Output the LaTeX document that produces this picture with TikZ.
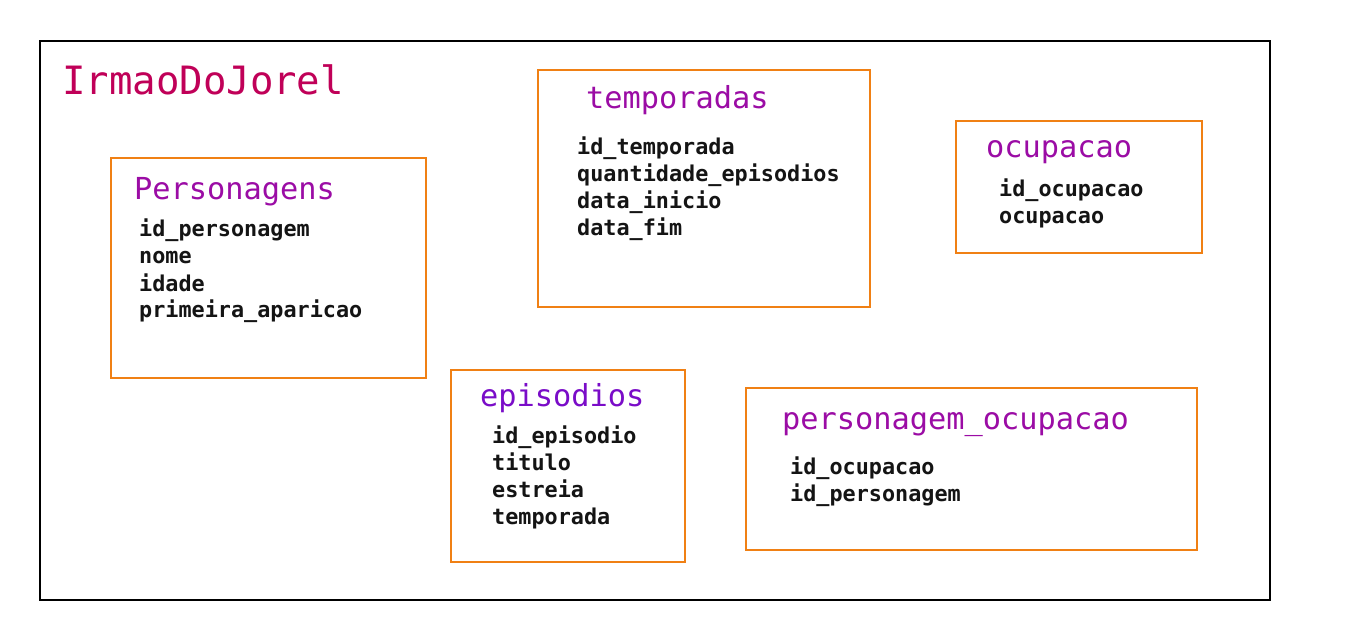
\documentclass[tikz,border=0pt]{standalone}
\usepackage{fontspec}
\setmonofont{DejaVu Sans Mono}
\definecolor{boxorange}{RGB}{240,128,20}
\definecolor{titlered}{RGB}{192,0,88}
\definecolor{headpurple}{RGB}{155,12,165}
\definecolor{headviolet}{RGB}{122,12,200}
\definecolor{fieldblack}{RGB}{20,20,20}
\tikzset{
  tbl/.style={draw=boxorange, line width=1.6pt, rectangle, inner sep=0pt},
  frm/.style={draw=black, line width=1.6pt, rectangle, inner sep=0pt},
  ttl/.style={anchor=base west, inner sep=0pt, text=titlered, font=\ttfamily\fontsize{39}{44}\selectfont},
  head/.style={anchor=base west, inner sep=0pt, text=headpurple, font=\ttfamily\fontsize{30.3}{34}\selectfont},
  fld/.style={anchor=base west, inner sep=0pt, text=fieldblack, font=\ttfamily\bfseries\fontsize{21.8}{27}\selectfont}
}
\begin{document}
\begin{tikzpicture}[x=1pt,y=-1pt]
\path[use as bounding box, fill=white] (0,0) rectangle (1345,631);
% outer frame
\node[frm, minimum width=1230, minimum height=559] (frame) at (655,320.5) {};
\node[ttl] (title) at (62,95) {IrmaoDoJorel};
% tables
\node[tbl, minimum width=315, minimum height=220] (pers) at (268.5,268) {};
\node[tbl, minimum width=332, minimum height=237] (temp) at (704,188.5) {};
\node[tbl, minimum width=246, minimum height=132] (ocup) at (1079,187) {};
\node[tbl, minimum width=234, minimum height=192] (epis) at (568,466) {};
\node[tbl, minimum width=451, minimum height=162] (pocup) at (971.5,469) {};
% headings
\node[head] (persh) at (134,200) {Personagens};
\node[head] (temph) at (586,109) {temporadas};
\node[head] (ocuph) at (986,158) {ocupacao};
\node[head, text=headviolet] (epish) at (480,406) {episodios};
\node[head] (pocuph) at (782,429) {personagem\_ocupacao};
% fields
\foreach \t [count=\i] in {id\_personagem, nome, idade, primeira\_aparicao}
  \node[fld] (persf\i) at (139,{237+27*(\i-1)}) {\t};
\foreach \t [count=\i] in {id\_temporada, quantidade\_episodios, data\_inicio, data\_fim}
  \node[fld] (tempf\i) at (577,{155+27*(\i-1)}) {\t};
\foreach \t [count=\i] in {id\_ocupacao, ocupacao}
  \node[fld] (ocupf\i) at (999,{197+27*(\i-1)}) {\t};
\foreach \t [count=\i] in {id\_episodio, titulo, estreia, temporada}
  \node[fld] (episf\i) at (492,{443+27*(\i-1)}) {\t};
\foreach \t [count=\i] in {id\_ocupacao, id\_personagem}
  \node[fld] (pocupf\i) at (790,{474+27*(\i-1)}) {\t};
\end{tikzpicture}
\end{document}
